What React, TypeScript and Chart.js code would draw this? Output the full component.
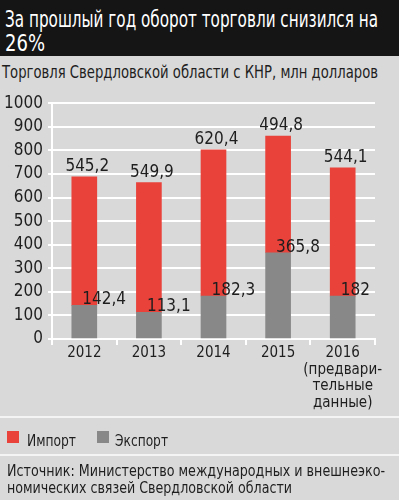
import React, { useEffect, useLayoutEffect, useRef } from "react";
import { Chart, registerables } from "chart.js";

Chart.register(...registerables);

const FONT = "'DejaVu Sans Condensed', 'Liberation Sans Narrow', 'Arial Narrow', sans-serif";

const titleLines = ["За прошлый год оборот торговли снизился на", "26%"];
const subtitle = "Торговля Свердловской области с КНР, млн долларов";
const years = ["2012", "2013", "2014", "2015", "2016"];
const yearNotes: string[][] = [[], [], [], [], ["(предвари-", "тельные", "данные)"]];
const importValues = [545.2, 549.9, 620.4, 494.8, 544.1];
const exportValues = [142.4, 113.1, 182.3, 365.8, 182];
const seriesNames = ["Импорт", "Экспорт"];
const yMin = 0;
const yMax = 1000;
const yStep = 100;
const sourceLines = [
  "Источник: Министерство международных и внешнеэко-",
  "номических связей Свердловской области",
];

const RED = "#e8423a";
const GRAY = "#888888";
const BG = "#d9d9d9";
const TEXT = "#1e1e1e";

const fmt = (v: number) => String(v).replace(".", ",");

const valueLabels = {
  id: "valueLabels",
  afterDatasetsDraw(chart: any) {
    const ctx = chart.ctx;
    const expMeta = chart.getDatasetMeta(0);
    const impMeta = chart.getDatasetMeta(1);
    ctx.save();
    ctx.font = `17px ${FONT}`;
    ctx.fillStyle = TEXT;
    ctx.textBaseline = "alphabetic";
    expMeta.data.forEach((bar: any, i: number) => {
      ctx.textAlign = "left";
      ctx.fillText(fmt(exportValues[i]), bar.x - 2, bar.y - 1);
    });
    impMeta.data.forEach((bar: any, i: number) => {
      ctx.textAlign = "center";
      ctx.fillText(fmt(importValues[i]), bar.x + 3, bar.y - 6);
    });
    ctx.restore();
  },
};

function FitText({ text, width, style }: { text: string; width: number; style?: React.CSSProperties }) {
  const ref = useRef<HTMLSpanElement | null>(null);
  useLayoutEffect(() => {
    const el = ref.current;
    if (!el) return;
    el.style.transform = "none";
    const w = el.getBoundingClientRect().width;
    if (w > 0) el.style.transform = `scaleX(${width / w})`;
  }, [text, width]);
  return (
    <span ref={ref} style={{ display: "inline-block", whiteSpace: "nowrap", transformOrigin: "0 0", ...style }}>
      {text}
    </span>
  );
}

function TradeChart() {
  const ref = useRef<HTMLCanvasElement | null>(null);
  useEffect(() => {
    if (!ref.current) return;
    const labels = years.map((y, i) => (yearNotes[i].length ? [y, ...yearNotes[i]] : y));
    const chart = new Chart(ref.current, {
      type: "bar",
      data: {
        labels,
        datasets: [
          { label: seriesNames[1], data: exportValues, backgroundColor: GRAY, barThickness: 25 },
          { label: seriesNames[0], data: importValues, backgroundColor: RED, barThickness: 25 },
        ],
      },
      options: {
        animation: false,
        responsive: false,
        maintainAspectRatio: false,
        layout: { padding: { top: 12, right: 24, left: 0, bottom: 0 } },
        plugins: { legend: { display: false }, tooltip: { enabled: false }, title: { display: false } },
        scales: {
          x: {
            stacked: true,
            afterFit: (s: any) => {
              s.height = 79;
            },
            grid: { display: true, drawOnChartArea: false, drawTicks: true, tickLength: 6, color: "#ffffff", lineWidth: 2, offset: true },
            border: { display: true, color: "#ffffff", width: 2 },
            ticks: { color: TEXT, font: { family: FONT, size: 15, lineHeight: 1.1 }, padding: 0, maxRotation: 0, autoSkip: false },
          },
          y: {
            stacked: true,
            min: yMin,
            max: yMax,
            afterFit: (s: any) => {
              s.width = 52;
            },
            grid: { color: "#ffffff", lineWidth: 2, tickLength: 4 },
            border: { display: true, color: "#ffffff", width: 2 },
            ticks: {
              stepSize: yStep,
              autoSkip: false,
              color: TEXT,
              font: { family: FONT, size: 17 },
              padding: 5,
              callback: (v: any) => String(v),
            },
          },
        },
      },
      plugins: [valueLabels],
    });
    return () => chart.destroy();
  }, []);
  return <canvas ref={ref} width={399} height={330} style={{ display: "block", width: 399, height: 330 }} />;
}

export default function App() {
  useEffect(() => {
    document.body.style.margin = "0";
  }, []);
  return (
    <div style={{ position: "relative", width: 399, height: 500, background: BG, overflow: "hidden", fontFamily: FONT, color: TEXT }}>
      <div style={{ position: "absolute", left: 0, top: 0, width: 399, height: 56, background: "#151515" }} />
      <div style={{ position: "absolute", left: 5, top: 7, color: "#ffffff", fontSize: 23, lineHeight: "24px" }}>
        <div style={{ height: 24 }}>
          <FitText text={titleLines[0]} width={373} />
        </div>
        <div style={{ height: 24 }}>
          <FitText text={titleLines[1]} width={40} />
        </div>
      </div>
      <div style={{ position: "absolute", left: 2, top: 63, fontSize: 17, lineHeight: "18px" }}>
        <FitText text={subtitle} width={376} />
      </div>
      <div style={{ position: "absolute", left: 0, top: 88 }}>
        <TradeChart />
      </div>
      <div style={{ position: "absolute", left: 0, top: 416, width: 399, height: 36, borderTop: "2px solid #f4f4f4", borderBottom: "2px solid #f4f4f4" }}>
        <div style={{ position: "absolute", left: 7, top: 13, width: 12, height: 12, background: RED }} />
        <div style={{ position: "absolute", left: 27, top: 14, fontSize: 16, lineHeight: "18px" }}>
          <FitText text={seriesNames[0]} width={49} />
        </div>
        <div style={{ position: "absolute", left: 97, top: 13, width: 12, height: 12, background: GRAY }} />
        <div style={{ position: "absolute", left: 115, top: 14, fontSize: 16, lineHeight: "18px" }}>
          <FitText text={seriesNames[1]} width={53} />
        </div>
      </div>
      <div style={{ position: "absolute", left: 7, top: 462, fontSize: 16, lineHeight: "17px" }}>
        <div style={{ height: 17 }}>
          <FitText text={sourceLines[0]} width={378} />
        </div>
        <div style={{ height: 17 }}>
          <FitText text={sourceLines[1]} width={285} />
        </div>
      </div>
    </div>
  );
}
